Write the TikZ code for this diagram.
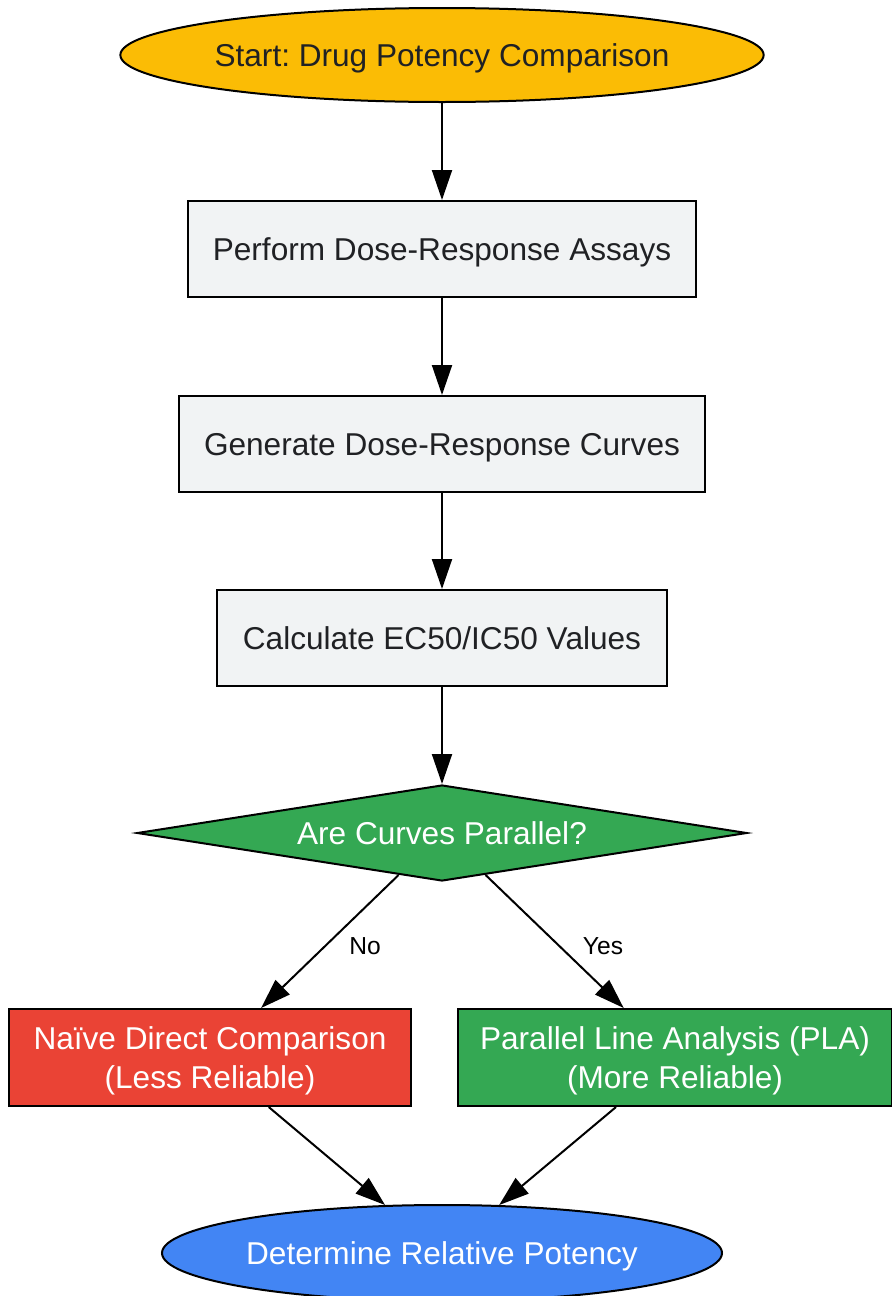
\documentclass[tikz,border=0pt]{standalone}
\usepackage{fontspec}
\setmainfont{Liberation Sans}
\usetikzlibrary{arrows.meta}
\usetikzlibrary{shapes.geometric}
\usetikzlibrary{positioning}

\definecolor{gyellow}{HTML}{FBBC05}
\definecolor{ggrey}{HTML}{F1F3F4}
\definecolor{ggreen}{HTML}{34A853}
\definecolor{gred}{HTML}{EA4335}
\definecolor{gblue}{HTML}{4285F4}
\definecolor{gtext}{HTML}{202124}
\frenchspacing

\begin{document}
\begin{tikzpicture}[
	x=0.5pt, y=-0.5pt,
  > = {Triangle[length=15pt,width=10pt]},
  every node/.style = {font=\fontsize{15.8}{19.5}\selectfont},
  flow/.style = {draw=black, line width=1pt, inner sep=0pt, text depth=0pt, text=gtext},
  terminal/.style = {flow, ellipse},
  stepbox/.style = {flow, rectangle, fill=ggrey, minimum height=48pt},
  decision/.style = {flow, diamond, aspect=6, fill=ggreen, text=white, minimum width=305pt, minimum height=48pt},
  outcome/.style = {flow, rectangle, text=white, align=center, minimum height=48.5pt},
  edge/.style = {->, line width=1pt},
  lbl/.style = {font=\fontsize{12.3}{15}\selectfont, text=black}
  ]
	\useasboundingbox (0,0) rectangle (892,1296);

	\coordinate (@start) at (442,55);
	\coordinate (@assay) at (442,249);
	\coordinate (@curve) at (442,444);
	\coordinate (@calc)  at (442,638);
	\coordinate (@par)   at (442,833);
	\coordinate (@naive) at (210,1057.5);
	\coordinate (@pla)   at (675,1057.5);
	\coordinate (@end)   at (442,1253);

	\node[terminal, fill=gyellow, minimum width=319pt, minimum height=47pt] (start) at (@start) {Start: Drug Potency Comparison};
	\node[stepbox, minimum width=254pt] (assay) at (@assay) {Perform Dose-Response Assays};
	\node[stepbox, minimum width=263pt] (curve) at (@curve) {Generate Dose-Response Curves};
	\node[stepbox, minimum width=225pt] (calc)  at (@calc)  {Calculate EC50/IC50 Values};
	\node[decision] (par) at (@par) {Are Curves Parallel?};
	\node[outcome, fill=gred,   minimum width=201pt] (naive) at (@naive) {Naïve Direct Comparison\\(Less Reliable)};
	\node[outcome, fill=ggreen, minimum width=217pt] (pla)   at (@pla)   {Parallel Line Analysis (PLA)\\(More Reliable)};
	\node[terminal, fill=gblue, text=white, minimum width=280pt, minimum height=48pt] (end) at (@end) {Determine Relative Potency};

	\draw[edge] (start) -- (assay);
	\draw[edge] (assay) -- (curve);
	\draw[edge] (curve) -- (calc);
	\draw[edge] (calc)  -- (par);
	\draw[edge] (par)   -- (naive);
	\draw[edge] (par)   -- (pla);
	\draw[edge] (naive) -- (end);
	\draw[edge] (pla)   -- (end);

	\node[lbl] (no)  at (365,946) {No};
	\node[lbl] (yes) at (603,946) {Yes};

\end{tikzpicture}
\end{document}
